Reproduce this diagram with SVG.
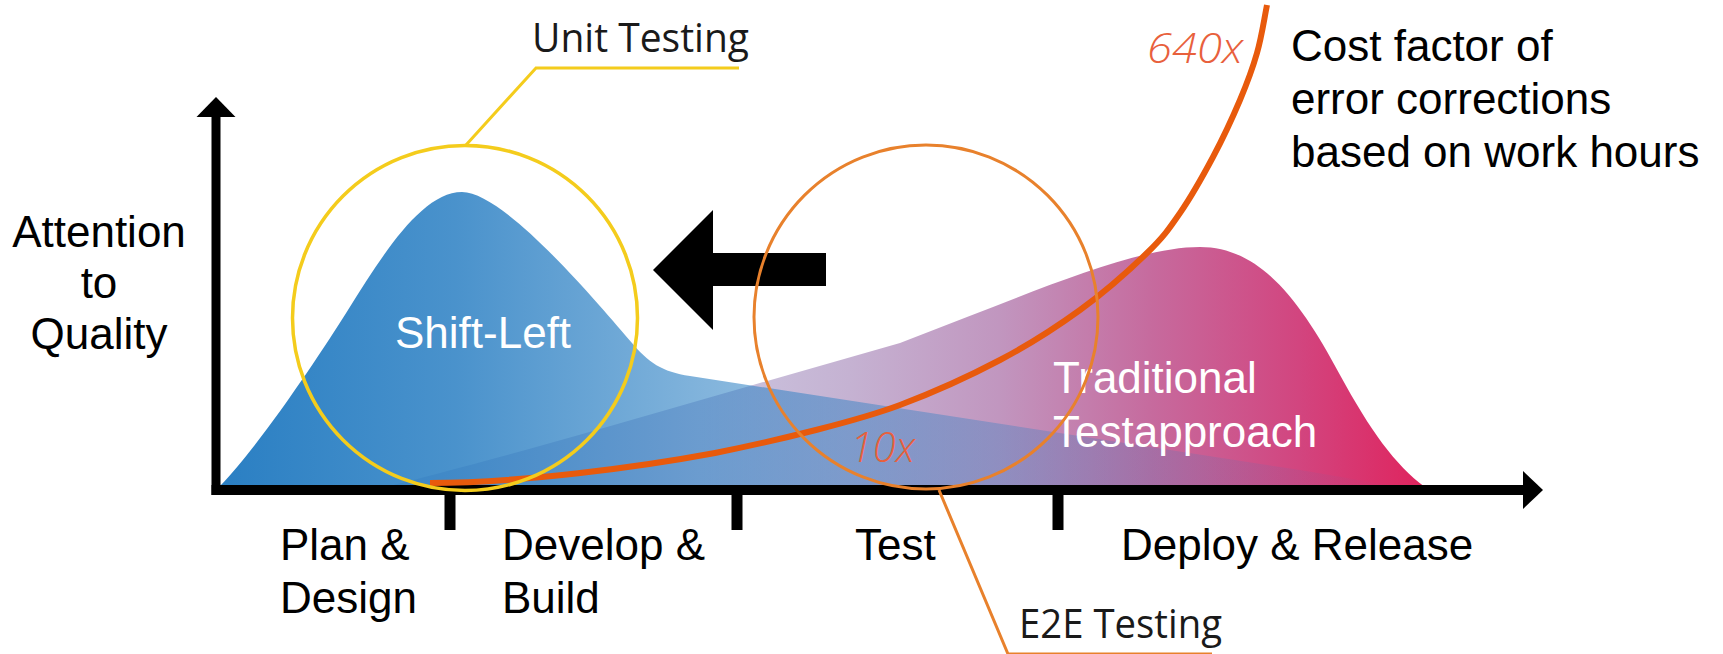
<svg xmlns="http://www.w3.org/2000/svg" width="1723" height="654" viewBox="0 0 1723 654">
  <style>
    .lbl { font-family: "Liberation Sans", Arial, sans-serif; font-size: 44px; fill: #000; }
    .wht { font-family: "Liberation Sans", Arial, sans-serif; font-size: 44px; fill: #fff; }
    .cond { font-family: "Open Sans", "Liberation Sans", sans-serif; font-size: 41px; fill: #1a1a1a; }
    .num { font-family: "Open Sans", "Liberation Sans", sans-serif; font-weight: 300; font-style: italic; font-size: 42px; fill: #E8603C; }
    .axis { fill: #000; }
  </style>
  <defs>
    <linearGradient id="blueGrad" gradientUnits="userSpaceOnUse" x1="220" y1="0" x2="1400" y2="0">
      <stop offset="0" stop-color="#2A7FC3" stop-opacity="1"/>
      <stop offset="0.2" stop-color="#2A7FC3" stop-opacity="0.85"/>
      <stop offset="0.4" stop-color="#2A7FC3" stop-opacity="0.6"/>
      <stop offset="0.66" stop-color="#2A7FC3" stop-opacity="0.33"/>
      <stop offset="1" stop-color="#2A7FC3" stop-opacity="0"/>
    </linearGradient>
    <linearGradient id="magGrad" gradientUnits="userSpaceOnUse" x1="700" y1="0" x2="1430" y2="0">
      <stop offset="0" stop-color="#CBC6E0"/>
      <stop offset="0.205" stop-color="#C5B2D2"/>
      <stop offset="0.41" stop-color="#C196BF"/>
      <stop offset="0.616" stop-color="#C66B9E"/>
      <stop offset="0.82" stop-color="#D2457F"/>
      <stop offset="1" stop-color="#E0225C"/>
    </linearGradient>
  </defs>

  <g id="traditional-hill">
    <path d="M385,487 C430,476 520,452 600,429 L753,385 L900,343 L967,317 C1050,285 1140,247 1200,247 C1260,247 1300,300 1340,375 C1370,430 1395,465 1425,487 Z" fill="url(#magGrad)"/>
  </g>

  <g id="shift-left-hill">
    <path d="M220,486 C260,445 320,354.5 348,310 C383,254 422,192 462,192 C505,192 600,306 632,343 C648,362 662,372 690,376 L1300,470 L1400,487 Z" fill="url(#blueGrad)"/>
  </g>

  <g id="hill-labels">
    <text class="wht" x="395" y="348">Shift-Left</text>
    <text class="wht" x="1053" y="393">Traditional</text>
    <text class="wht" x="1053" y="447">Testapproach</text>
  </g>

  <g id="axes">
    <rect class="axis" x="211.5" y="110" width="9" height="385"/>
    <polygon class="axis" points="216,97 235.5,117 196.5,117"/>
    <rect class="axis" x="211.5" y="485" width="1315" height="10"/>
    <polygon class="axis" points="1543,490 1523,471 1523,509"/>
    <rect class="axis" x="444.5" y="490" width="11" height="40"/>
    <rect class="axis" x="731.5" y="490" width="11" height="40"/>
    <rect class="axis" x="1052.5" y="490" width="11" height="40"/>
  </g>

  <g id="y-axis-label">
    <text class="lbl" x="99" y="247" text-anchor="middle">Attention</text>
    <text class="lbl" x="99" y="298" text-anchor="middle">to</text>
    <text class="lbl" x="99" y="349" text-anchor="middle">Quality</text>
  </g>

  <g id="phase-plan">
    <text class="lbl" x="280" y="560">Plan &amp;</text>
    <text class="lbl" x="280" y="613">Design</text>
  </g>
  <g id="phase-develop">
    <text class="lbl" x="502" y="560">Develop &amp;</text>
    <text class="lbl" x="502" y="613">Build</text>
  </g>
  <g id="phase-test">
    <text class="lbl" x="855" y="560">Test</text>
  </g>
  <g id="phase-deploy">
    <text class="lbl" x="1121" y="560">Deploy &amp; Release</text>
  </g>

  <g id="connectors">
    <path id="cost-curve" d="M430,483 C520,483 640,467 715,453 C780,440 860,420 900,405 C933.3,392.5 970,375.8 1000,360 C1030,344.2 1055.5,327.8 1080,310 C1104.5,292.2 1130.3,269.2 1147,253 C1163.7,236.8 1169,229 1180,213 C1191,197 1203,175.8 1213,157 C1223,138.2 1232.7,117.3 1240,100 C1247.3,82.7 1252.5,68.7 1257,53 C1261.5,37.3 1263.7,21.7 1267,5" fill="none" stroke="#E85A0C" stroke-width="6"/>
    <polyline points="466,145 536,68 739,68" fill="none" stroke="#F4CC1C" stroke-width="3"/>
    <polyline points="939,490 1008,654 1212,654" fill="none" stroke="#E8812C" stroke-width="3"/>
  </g>

  <g id="cost-labels">
    <text class="num" x="1147" y="63" textLength="96" lengthAdjust="spacingAndGlyphs">640x</text>
    <text class="num" x="850" y="462" textLength="65" lengthAdjust="spacingAndGlyphs">10x</text>
  </g>

  <g id="cost-factor-label">
    <text class="lbl" x="1291" y="61">Cost factor of</text>
    <text class="lbl" x="1291" y="114">error corrections</text>
    <text class="lbl" x="1291" y="167">based on work hours</text>
  </g>

  <g id="shift-arrow">
    <polygon class="axis" points="653,270 713,210 713,253 826,253 826,286 713,286 713,330"/>
  </g>

  <g id="unit-testing">
    <circle cx="465" cy="318" r="172.5" fill="none" stroke="#F4CC1C" stroke-width="3.5"/>
    <text class="cond" x="532" y="52" textLength="217" lengthAdjust="spacingAndGlyphs">Unit Testing</text>
  </g>

  <g id="e2e-testing">
    <circle cx="926" cy="317" r="172" fill="none" stroke="#E8812C" stroke-width="3"/>
    <text class="cond" x="1019" y="638" textLength="203" lengthAdjust="spacingAndGlyphs">E2E Testing</text>
  </g>
</svg>
